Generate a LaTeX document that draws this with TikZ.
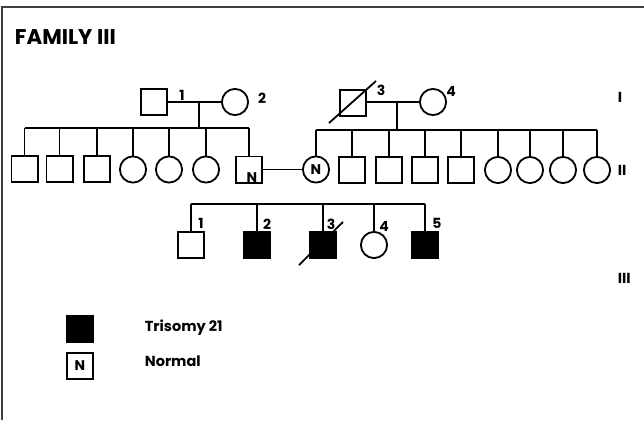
\documentclass[tikz,border=0pt]{standalone}
\usepackage{fontspec}
\setmainfont{Poppins}
\begin{document}
\begin{tikzpicture}[x=1pt,y=-1pt,line width=1.8pt,
  sq/.style={draw,rectangle,minimum size=26.2pt,inner sep=0pt},
  ci/.style={draw,circle,minimum size=26.2pt,inner sep=0pt},
  aff/.style={sq,fill=black},
  lbl/.style={font=\bfseries\fontsize{14}{14}\selectfont,inner sep=0pt},
  txt/.style={font=\bfseries\fontsize{14.5}{14.5}\selectfont,inner sep=0pt,anchor=west},
  nlab/.style={font=\bfseries\fontsize{14}{14}\selectfont}]
\useasboundingbox (0,0) rectangle (644,420);
% frame
\draw[line width=1.5pt,black!75] (2,420) -- (2,7) -- (644,7);
\node[anchor=west,inner sep=0pt,font=\bfseries\fontsize{21.3}{21.3}\selectfont] (title) at (14,37) {FAMILY III};
% generation I
\node[sq] (i1) at (154,102) {};
\node[ci] (i2) at (235,102) {};
\node[sq] (i3) at (353,103) {};
\node[ci] (i4) at (433,102) {};
\node[lbl] (n1) at (182,95) {1};
\node[lbl] (n2) at (262,98) {2};
\node[lbl] (n3) at (381,90) {3};
\node[lbl] (n4) at (451,91) {4};
\draw (i1.east) -- (i2.west);
\draw (i3.east |- i4) -- (i4.west);
\draw (329,123) -- (376,81);
\coordinate (mA) at (199,102);
\coordinate (sA) at (199,128);
\coordinate (mB) at (397,102);
\coordinate (sB) at (397,130);
\draw (mA) -- (sA);
\draw (mB) -- (sB);
% generation II left
\node[sq] (a1) at (24.5,169) {};
\node[sq] (a2) at (59.5,169) {};
\node[sq] (a3) at (97,169) {};
\node[ci] (a4) at (133,169.5) {};
\node[ci] (a5) at (169,169.5) {};
\node[ci] (a6) at (206,169.5) {};
\node[sq] (a7) at (249,169.5) {};
\node[nlab,inner sep=0pt] (a7n) at (252,177.5) {N};
\draw (a1.north |- sA) -- (a7.north |- sA);
\foreach \c in {a1,a2,a3,a4,a5,a6,a7} \draw (\c.north) -- (\c.north |- sA);
% generation II right
\node[ci,nlab] (b1) at (316,169.5) {N};
\node[sq] (b2) at (352,170) {};
\node[sq] (b3) at (389,170) {};
\node[sq] (b4) at (425,170) {};
\node[sq] (b5) at (461,170) {};
\node[ci] (b6) at (498,170) {};
\node[ci] (b7) at (530,170) {};
\node[ci] (b8) at (563,170) {};
\node[ci] (b9) at (597,170) {};
\draw (b1.north |- sB) -- (b9.north |- sB);
\foreach \c in {b1,b2,b3,b4,b5,b6,b7,b8,b9} \draw (\c.north) -- (\c.north |- sB);
\draw (a7.east) -- (b1.west);
% generation III
\coordinate (sC) at (300,204);
\node[sq] (c1) at (191,245) {};
\node[aff] (c2) at (257,245) {};
\node[aff] (c3) at (323,245) {};
\node[ci] (c4) at (374,245) {};
\node[aff] (c5) at (425,245) {};
\draw (c1.north |- sC) -- (c5.north |- sC);
\foreach \c in {c1,c2,c3,c4,c5} \draw (\c.north) -- (\c.north |- sC);
\draw (299,265) -- (343,222);
\node[lbl] (m1) at (201,223) {1};
\node[lbl] (m2) at (267,224) {2};
\node[lbl] (m3) at (331,224) {3};
\node[lbl] (m4) at (384,226) {4};
\node[lbl] (m5) at (437,223) {5};
% generation labels
\node[txt] (gI) at (617,97) {I};
\node[txt] (gII) at (617,170) {II};
\node[txt] (gIII) at (617,278) {III};
% legend
\node[aff] (lA) at (80,329) {};
\node[sq,nlab] (lN) at (80,366) {N};
\node[txt] (tA) at (144,328) {Trisomy 21};
\node[txt] (tN) at (144,361) {Normal};
\end{tikzpicture}
\end{document}
